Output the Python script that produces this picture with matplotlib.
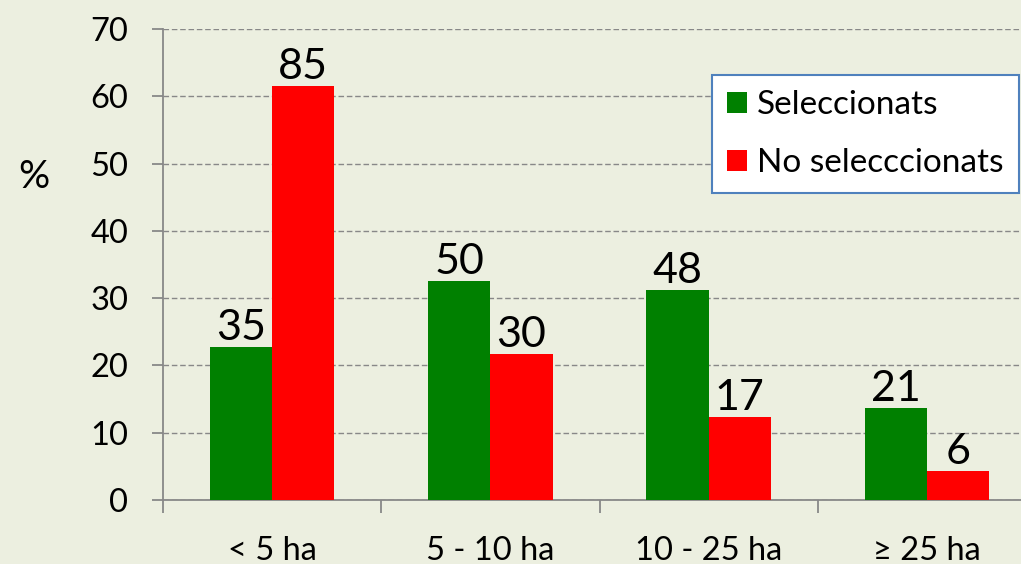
import numpy as np
from matplotlib import pyplot as plt

# data
categories = ['< 5 ha', '5 - 10 ha', '10 - 25 ha', '≥ 25 ha']
sel_pct = [22.7, 32.5, 31.2, 13.6]
nosel_pct = [61.6, 21.7, 12.3, 4.3]
sel_n = [35, 50, 48, 21]
nosel_n = [85, 30, 17, 6]

plt.rcParams['font.family'] = ['Lato', 'DejaVu Sans']
bg = '#ECEFE0'
grey = '#888888'

fig = plt.figure(figsize=(10.21, 5.64), dpi=100, facecolor=bg)
ax = fig.add_axes([163/1021, 1-500/564, 873/1021, 471/564], facecolor=bg)

x = np.arange(len(categories))
w = 0.285
b1 = ax.bar(x - w/2, sel_pct, w, color='#008000', label='Seleccionats', zorder=3)
b2 = ax.bar(x + w/2, nosel_pct, w, color='#FF0000', label='No selecccionats', zorder=3)
ax.bar_label(b1, labels=[str(v) for v in sel_n], fontsize=31, padding=0)
ax.bar_label(b2, labels=[str(v) for v in nosel_n], fontsize=31, padding=0)

ax.set_xlim(-0.5, 3.5)
ax.set_ylim(0, 70)
ax.set_yticks(range(0, 71, 10))
ax.yaxis.grid(True, linestyle='--', color=grey, linewidth=1, dashes=(4, 2))
ax.set_axisbelow(True)

ax.set_xticks(x)
ax.set_xticklabels(categories)
ax.set_xticks(np.arange(-0.5, 4, 1), minor=True)
ax.tick_params(axis='x', which='major', length=0, pad=26, labelsize=23.5)
ax.tick_params(axis='x', which='minor', length=9, color=grey, width=1.3)
ax.tick_params(axis='y', length=8, color=grey, width=1.3, pad=17, labelsize=23.5)

for s in ['top', 'right']:
    ax.spines[s].set_visible(False)
for s in ['left', 'bottom']:
    ax.spines[s].set_color(grey)
    ax.spines[s].set_linewidth(1.3)

fig.text(34/1021, 1-177/564, '%', fontsize=28, ha='center', va='center')

leg = ax.legend(loc='upper left', bbox_to_anchor=(712/1021, 1-75/564), bbox_transform=fig.transFigure,
                borderaxespad=0, fontsize=24, fancybox=False, framealpha=1, edgecolor='#4F81BD',
                handlelength=0.6, handleheight=0.6, handletextpad=0.3, labelspacing=0.85,
                borderpad=0.45)
leg.get_frame().set_linewidth(1.5)

fig.savefig('out.png', dpi=100, facecolor=bg)
